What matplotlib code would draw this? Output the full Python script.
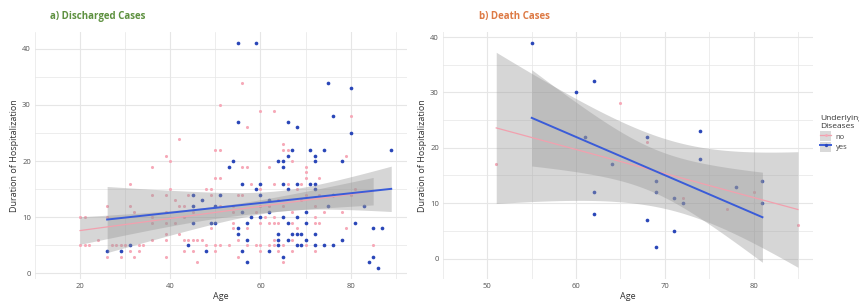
import math
import numpy as np
import matplotlib
matplotlib.use('Agg')
import matplotlib.pyplot as plt
from matplotlib.patches import Rectangle
from matplotlib.lines import Line2D

plt.rcParams['font.family'] = ['Open Sans', 'DejaVu Sans']

# a) discharged cases -- age, duration (days)
dis_no_age = [56, 51, 60, 63, 80, 57, 42, 50, 51, 65, 66, 65,
              39, 79, 40, 67, 36, 56, 57, 62, 70, 70, 50, 51, 70, 73,
              31, 58, 63, 66, 69, 40, 48, 49, 60, 68, 81,
              36, 39, 44, 49, 55, 56, 70, 73, 80, 41, 64, 69,
              26, 31, 42, 43, 51, 54, 60, 62, 65, 72,
              32, 39, 45, 54, 59, 67, 74, 78, 21, 26, 36, 43, 61, 63, 72,
              36, 39, 41, 54, 60, 62, 63, 64, 67, 72, 73, 49, 54, 57, 68, 79,
              39, 42, 24, 36, 39, 43, 44, 45, 46, 47, 55, 63, 67, 78,
              21, 22, 27, 28, 29, 30, 33, 34, 48, 50, 51, 53, 57, 59,
              60, 62, 63, 65, 70, 85, 31, 33, 43, 45, 50, 60, 64, 67, 72,
              26, 29, 32, 39, 55, 46, 65, 20, 20]
dis_no_dur = [34, 30, 29, 29, 28, 26, 24, 22, 22, 22, 22, 23,
              21, 21, 20, 20, 19, 19, 19, 19, 19, 18, 17, 17, 17, 17,
              16, 16, 16, 16, 16, 15, 15, 15, 15, 15, 15,
              14, 14, 14, 14, 14, 14, 14, 14, 14, 13, 13, 13,
              12, 12, 12, 12, 12, 12, 12, 12, 12, 12,
              11, 11, 11, 11, 11, 11, 11, 11, 10, 10, 10, 10, 10, 10, 10,
              9, 9, 9, 9, 9, 9, 9, 9, 9, 9, 9, 8, 8, 8, 8, 8,
              7, 7, 6, 6, 6, 6, 6, 6, 6, 6, 6, 6, 6, 6,
              5, 5, 5, 5, 5, 5, 5, 5, 5, 5, 5, 5, 5, 5,
              5, 5, 5, 5, 5, 5, 4, 4, 4, 4, 4, 4, 4, 4, 4,
              3, 3, 3, 3, 3, 2, 2, 5, 10]
dis_yes_age = [55, 59, 75, 80, 55, 66, 76, 68, 80, 67, 71, 74, 89,
               66, 72, 54, 64, 65, 72, 78, 53, 65,
               56, 60, 65, 68, 71, 72, 59, 66, 72, 45, 51, 60, 76, 47, 62,
               45, 50, 75, 83, 56, 62, 70, 58, 60, 65, 68,
               45, 49, 50, 57, 66, 70, 81, 55, 85, 87,
               55, 64, 67, 68, 69, 72, 57, 64, 66, 70, 78,
               31, 44, 64, 68, 69, 72, 74, 76, 26, 29, 48, 56, 62,
               65, 85, 57, 84, 86]
dis_yes_dur = [41, 41, 34, 33, 27, 27, 28, 26, 25, 22, 22, 22, 22,
               21, 21, 20, 20, 20, 20, 20, 19, 19,
               16, 16, 16, 16, 16, 16, 15, 15, 15, 14, 14, 14, 14, 13, 13,
               12, 12, 12, 12, 11, 11, 11, 10, 10, 10, 10,
               9, 9, 9, 9, 9, 9, 9, 8, 8, 8,
               7, 7, 7, 7, 7, 7, 6, 6, 6, 6, 6,
               5, 5, 5, 5, 5, 5, 5, 5, 4, 4, 4, 4, 4,
               3, 3, 2, 2, 1]

# b) death cases
death_no_age = [51, 65, 68, 72, 77, 80, 85]
death_no_dur = [17, 28, 21, 11, 9, 12, 6]
death_yes_age = [55, 60, 62, 61, 68, 74, 64, 69, 62, 69, 71, 72, 78, 81,
                 81, 62, 68, 71, 69, 74]
death_yes_dur = [39, 30, 32, 22, 22, 23, 17, 14, 12, 12, 11, 10, 13, 14,
                 10, 8, 7, 5, 2, 18]

PINK = '#F6A9B8'
PINK_LINE = '#F2A0AE'
BLUE = '#2A46B8'
BLUE_LINE = '#3A5CD8'
GRID = '#E6E6E6'
TXT = '#555555'


def t_ppf975(df):
    # numeric 97.5% quantile of Student t
    c = math.gamma((df + 1) / 2) / (math.sqrt(df * math.pi) * math.gamma(df / 2))
    t = np.linspace(0, 20, 200001)
    pdf = c * (1 + t ** 2 / df) ** (-(df + 1) / 2)
    cdf = 0.5 + np.concatenate([[0], np.cumsum((pdf[1:] + pdf[:-1]) / 2 * np.diff(t))])
    return float(np.interp(0.975, cdf, t))


def lm_band(x, y):
    x = np.asarray(x, float)
    y = np.asarray(y, float)
    n = len(x)
    b, a = np.polyfit(x, y, 1)
    xs = np.linspace(x.min(), x.max(), 80)
    fit = a + b * xs
    s = math.sqrt(np.sum((y - (a + b * x)) ** 2) / (n - 2))
    sxx = np.sum((x - x.mean()) ** 2)
    se = s * np.sqrt(1 / n + (xs - x.mean()) ** 2 / sxx)
    tq = t_ppf975(n - 2)
    return xs, fit, fit - tq * se, fit + tq * se


def panel(ax, no_x, no_y, yes_x, yes_y, xlim, ylim, xt, yt):
    ax.scatter(no_x, no_y, s=5, color=PINK, linewidths=0, zorder=2)
    ax.scatter(yes_x, yes_y, s=7, color=BLUE, linewidths=0, zorder=2)
    for xx, yy in [(no_x, no_y), (yes_x, yes_y)]:
        xs, fit, lo, hi = lm_band(xx, yy)
        ax.fill_between(xs, lo, hi, color='#999999', alpha=0.4, linewidth=0, zorder=3)
    for xx, yy, col, lw in [(no_x, no_y, PINK_LINE, 0.9), (yes_x, yes_y, BLUE_LINE, 1.4)]:
        xs, fit, lo, hi = lm_band(xx, yy)
        ax.plot(xs, fit, color=col, lw=lw, zorder=4)
    ax.set_xlim(xlim)
    ax.set_ylim(ylim)
    ax.set_xticks(xt)
    ax.set_yticks(yt)
    ax.set_xticks([(xt[i] + xt[i + 1]) / 2 for i in range(len(xt) - 1)]
                  + [xt[0] - (xt[1] - xt[0]) / 2, xt[-1] + (xt[1] - xt[0]) / 2], minor=True)
    ax.set_yticks([(yt[i] + yt[i + 1]) / 2 for i in range(len(yt) - 1)], minor=True)
    ax.grid(True, which='major', color=GRID, lw=0.8, zorder=0)
    ax.grid(True, which='minor', color=GRID, lw=0.5, zorder=0)
    ax.set_axisbelow(True)
    for sp in ax.spines.values():
        sp.set_visible(False)
    ax.tick_params(which='both', length=0, labelsize=5.5, labelcolor=TXT, pad=3)
    ax.set_xlabel('Age', fontsize=6.5, color='#333333', labelpad=1)
    ax.set_ylabel('Duration of Hospitalization', fontsize=6.5, color='#333333', labelpad=2)


fig = plt.figure(figsize=(8.59, 3.02), dpi=100)
ax1 = fig.add_axes([35 / 859, 1 - 279 / 302, 372 / 859, 247 / 302])
ax2 = fig.add_axes([443 / 859, 1 - 279 / 302, 370 / 859, 247.5 / 302])

panel(ax1, dis_no_age, dis_no_dur, dis_yes_age, dis_yes_dur,
      (16.5, 92.5), (-1, 43), [20, 40, 60, 80], [0, 10, 20, 30, 40])
panel(ax2, death_no_age, death_no_dur, death_yes_age, death_yes_dur,
      (49.3, 86.7), (-3.7, 41), [50, 60, 70, 80], [0, 10, 20, 30, 40])

fig.text(50 / 859, 1 - 16 / 302, 'a) Discharged Cases', color='#5E9140',
         fontsize=7, fontweight='bold', va='center')
fig.text(479 / 859, 1 - 16 / 302, 'b) Death Cases', color='#DD7A45',
         fontsize=7, fontweight='bold', va='center')

key_bg = dict(facecolor='#D9D9D9', edgecolor='none')
h_no = (Rectangle((0, 0), 1, 1, **key_bg),
        Line2D([], [], color=PINK_LINE, lw=0.9, marker='o', ms=2, mfc=PINK, mec='none'))
h_yes = (Rectangle((0, 0), 1, 1, **key_bg),
         Line2D([], [], color=BLUE_LINE, lw=1.4, marker='o', ms=2.4, mfc=BLUE, mec='none'))
leg = fig.legend([h_no, h_yes], ['no', 'yes'], title='Underlying\nDiseases',
                 loc='upper left', bbox_to_anchor=(815 / 859, 1 - 110 / 302),
                 frameon=False, fontsize=5.5, title_fontsize=6,
                 handlelength=1.4, handleheight=1.6, handletextpad=0.6,
                 labelspacing=0.1, borderpad=0.2)
leg._legend_box.align = 'left'
for t in leg.get_texts():
    t.set_color('#444444')
leg.get_title().set_color('#333333')

fig.savefig('out.png', dpi=100)
